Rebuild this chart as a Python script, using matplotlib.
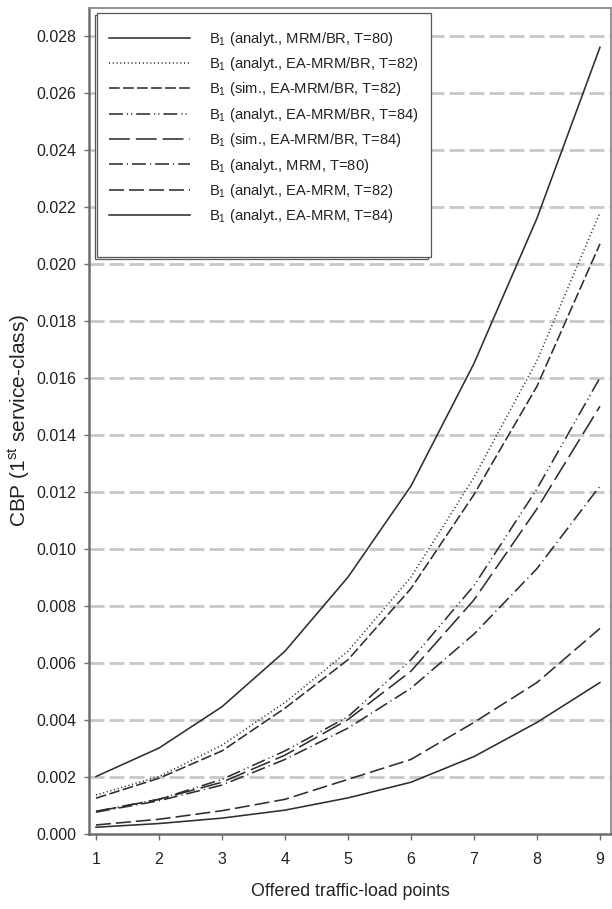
import matplotlib
matplotlib.use('Agg')
import matplotlib.pyplot as plt
from matplotlib.patches import Rectangle

plt.rcParams['font.family'] = ['Liberation Sans', 'DejaVu Sans']
plt.rcParams['mathtext.fontset'] = 'custom'
plt.rcParams['mathtext.rm'] = 'Liberation Sans'
plt.rcParams['mathtext.it'] = 'Liberation Sans:italic'
plt.rcParams['lines.scale_dashes'] = False

# offered traffic-load points
load_points = [1, 2, 3, 4, 5, 6, 7, 8, 9]

# CBP of the 1st service-class
mrm_br_t80 = [0.0020, 0.0030, 0.00445, 0.0064, 0.0090, 0.0122, 0.0165, 0.0216, 0.0276]
ea_br_t82_an = [0.00135, 0.0020, 0.0031, 0.0046, 0.0064, 0.0090, 0.0125, 0.0166, 0.0218]
ea_br_t82_sim = [0.00124, 0.00194, 0.0029, 0.0044, 0.0061, 0.0086, 0.0119, 0.0157, 0.0207]
ea_br_t84_an = [0.00078, 0.0012, 0.0019, 0.0029, 0.0041, 0.0061, 0.0087, 0.0121, 0.0160]
ea_br_t84_sim = [0.00077, 0.0012, 0.0018, 0.00275, 0.0040, 0.0057, 0.0082, 0.0114, 0.0150]
mrm_t80 = [0.00075, 0.00115, 0.0017, 0.0026, 0.0037, 0.0051, 0.0070, 0.0093, 0.0122]
ea_t82 = [0.0003, 0.0005, 0.0008, 0.0012, 0.0019, 0.0026, 0.0039, 0.0053, 0.0072]
ea_t84 = [0.00022, 0.00035, 0.00054, 0.00082, 0.00125, 0.0018, 0.0027, 0.0039, 0.0053]

labels = [
    r'B$_1$ (analyt., MRM/BR, T=80)',
    r'B$_1$ (analyt., EA-MRM/BR, T=82)',
    r'B$_1$ (sim., EA-MRM/BR, T=82)',
    r'B$_1$ (analyt., EA-MRM/BR, T=84)',
    r'B$_1$ (sim., EA-MRM/BR, T=84)',
    r'B$_1$ (analyt., MRM, T=80)',
    r'B$_1$ (analyt., EA-MRM, T=82)',
    r'B$_1$ (analyt., EA-MRM, T=84)',
]
series = [mrm_br_t80, ea_br_t82_an, ea_br_t82_sim, ea_br_t84_an,
          ea_br_t84_sim, mrm_t80, ea_t82, ea_t84]
styles = [
    '-',
    (0, (0.8, 1.9)),
    (0, (7.7, 2.4)),
    (0, (10, 2.9, 0.8, 2.2, 0.8, 2.9)),
    (0, (15, 4.3)),
    (0, (10, 2.9, 0.8, 2.9)),
    (0, (10.8, 3.6)),
    '-',
]

fig = plt.figure(figsize=(6.12, 9.09), dpi=100)
ax = fig.add_axes([89.3 / 612, 1 - 833.5 / 909, (611 - 89.3) / 612, (833.5 - 8) / 909])

for yv in [0.002 * i for i in range(1, 15)]:
    ax.axhline(yv, color='#c8c8c8', lw=2.0, linestyle=(0, (10.8, 3.6)), zorder=1)

handles = []
for vals, ls, lab in zip(series, styles, labels):
    h, = ax.plot(load_points, vals, color='#2e2e2e', lw=1.15, linestyle=ls, label=lab, zorder=3)
    handles.append(h)

ax.set_xlim(0.894, 9.175)
ax.set_ylim(0, 0.02898)
ax.set_xticks(load_points)
ax.set_yticks([0.002 * i for i in range(15)])
ax.set_yticklabels(['%.3f' % (0.002 * i) for i in range(15)])

for s in ['left', 'bottom']:
    ax.spines[s].set_color('#6e6e6e')
    ax.spines[s].set_linewidth(1.8)
for s in ['top', 'right']:
    ax.spines[s].set_color('#8a8a8a')
    ax.spines[s].set_linewidth(1.3)

ax.tick_params(axis='y', length=3.5, width=1.0, color='#6e6e6e', pad=6, labelsize=11.5, labelcolor='#222222')
ax.tick_params(axis='x', length=4.5, width=1.0, color='#6e6e6e', pad=9, labelsize=11.5, labelcolor='#222222')

ax.set_xlabel('Offered traffic-load points', fontsize=12.8, color='#222222', labelpad=11)
ax.set_ylabel(r'CBP (1$^{\mathrm{st}}$ service-class)', fontsize=15, color='#222222', labelpad=3)

# legend frame: double border drawn by hand
for (x0, y0, x1, y1), z in [((95, 15, 428.5, 259.3), 5), ((97.3, 12.7, 430.7, 256.7), 6)]:
    ax.add_patch(Rectangle((x0 / 612, 1 - y1 / 909), (x1 - x0) / 612, (y1 - y0) / 909,
                           transform=fig.transFigure, facecolor='white', edgecolor='#555555',
                           lw=0.9, zorder=z, clip_on=False))

leg = ax.legend(handles=handles, loc='upper left', bbox_to_anchor=(94 / 612, 1 - 15 / 909),
                bbox_transform=fig.transFigure, frameon=False, fontsize=10.6,
                handlelength=5.5, handletextpad=1.3, labelspacing=0.5, borderpad=0.5)
leg.set_zorder(10)
for t in leg.get_texts():
    t.set_color('#222222')

fig.savefig('out.png', dpi=100)
